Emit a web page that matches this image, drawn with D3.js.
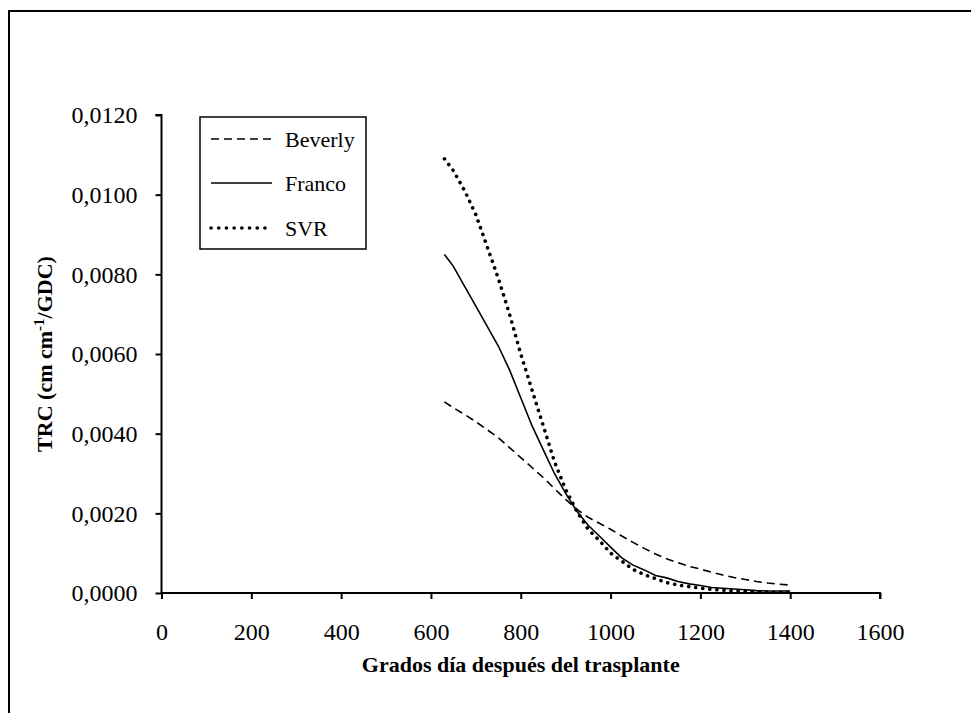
<!DOCTYPE html>
<html>
<head>
<meta charset="utf-8">
<script src="https://cdn.jsdelivr.net/npm/d3@7"></script>
<style>
  html, body { margin: 0; padding: 0; background: #fff; }
  svg { display: block; }
  text { font-family: "Liberation Serif", "Times New Roman", serif; fill: #000; }
</style>
</head>
<body>
<svg id="chart" width="971" height="713"></svg>
<script>
// Grados día después del trasplante (GDC)
const gdd = [630, 650, 675, 700, 725, 750, 775, 800, 825, 850, 875, 900, 925, 950, 975,
  1000, 1025, 1050, 1075, 1100, 1125, 1150, 1175, 1200, 1225, 1250, 1275, 1300, 1325, 1350, 1375, 1400];

// TRC per model
const beverly = [0.0048, 0.00465, 0.00448, 0.0043, 0.0041, 0.0039, 0.00365, 0.0034, 0.00315, 0.0029, 0.00262, 0.00235, 0.0021, 0.0019, 0.00175,
  0.0016, 0.00143, 0.00127, 0.00112, 0.00098, 0.00086, 0.00076, 0.00067, 0.0006, 0.00052, 0.00045, 0.00039, 0.00034, 0.00029, 0.00025, 0.00022, 0.0002];
const franco = [0.0085, 0.0082, 0.0077, 0.0072, 0.0067, 0.0062, 0.0056, 0.0049, 0.0042, 0.0036, 0.0030, 0.0025, 0.00205, 0.0017, 0.00143,
  0.00115, 0.00088, 0.0007, 0.00058, 0.00044, 0.00038, 0.00029, 0.00023, 0.00019, 0.00014, 0.00012, 0.0001, 0.00008, 0.00006, 0.00005, 0.00005, 0.00005];
const svr = [0.0109, 0.0106, 0.0101, 0.0095, 0.0087, 0.0079, 0.0070, 0.0060, 0.0051, 0.0042, 0.0033, 0.0026, 0.00205, 0.0016, 0.00132,
  0.001, 0.0008, 0.00059, 0.00046, 0.00036, 0.00026, 0.0002, 0.00016, 0.00012, 0.00009, 0.00007, 0.00005, 0.00004, 0.00003, 0.00002, 0.00002, 0.00002];

const seriesNames = ["Beverly", "Franco", "SVR"];
const xTicks = [0, 200, 400, 600, 800, 1000, 1200, 1400, 1600];
const yTicks = [0, 0.002, 0.004, 0.006, 0.008, 0.010, 0.012];

const svg = d3.select("#chart");

// outer frame
svg.append("path")
  .attr("d", "M9,713 L9,11 L971,11")
  .attr("fill", "none").attr("stroke", "#000").attr("stroke-width", 2);

const x = d3.scaleLinear().domain([0, 1600]).range([161.5, 880]);
const y = d3.scaleLinear().domain([0, 0.012]).range([593, 115]);

const fmt = d => d3.format(".4f")(d).replace(".", ",");

const yAxis = svg.append("g")
  .attr("transform", `translate(${x(0)},0)`)
  .call(d3.axisLeft(y).tickValues(yTicks).tickFormat(fmt).tickSizeOuter(0).tickSizeInner(6).tickPadding(18));
const xAxis = svg.append("g")
  .attr("transform", `translate(0,${y(0)})`)
  .call(d3.axisBottom(x).tickValues(xTicks).tickFormat(d3.format("d")).tickSizeOuter(0).tickSizeInner(6).tickPadding(24));

[yAxis, xAxis].forEach(g => {
  g.select(".domain").attr("stroke", "#000").attr("stroke-width", 2);
  g.selectAll(".tick line").attr("stroke", "#000").attr("stroke-width", 2);
  g.selectAll(".tick text")
    .attr("font-family", "'Liberation Serif', 'Times New Roman', serif")
    .attr("font-size", 24).attr("fill", "#000");
});
// the outer tick at the top of the y axis closes the spine
yAxis.select(".domain").attr("d", `M-6,${y(0.012)}H0V${y(0)}`);
xAxis.select(".domain").attr("d", `M${x(0)},0H${x(1600)}V6`);

const styles = {
  Beverly: { dash: "8 5", width: 1.6, cap: "butt" },
  Franco:  { dash: null, width: 1.6, cap: "butt" },
  SVR:     { dash: "0.1 7", width: 3.6, cap: "round" }
};
const values = { Beverly: beverly, Franco: franco, SVR: svr };

const line = d3.line().x(d => x(d[0])).y(d => y(d[1]));

seriesNames.forEach(name => {
  const pts = gdd.map((g, i) => [g, values[name][i]]);
  const st = styles[name];
  svg.append("path")
    .datum(pts)
    .attr("d", line)
    .attr("fill", "none")
    .attr("stroke", "#000")
    .attr("stroke-width", st.width)
    .attr("stroke-linecap", st.cap)
    .attr("stroke-dasharray", st.dash);
});

// legend
const lg = svg.append("g");
lg.append("rect")
  .attr("x", 200).attr("y", 117).attr("width", 166).attr("height", 132)
  .attr("fill", "#fff").attr("stroke", "#000").attr("stroke-width", 1.5);
const rowY = [139, 183, 228];
seriesNames.forEach((name, i) => {
  const st = styles[name];
  lg.append("line")
    .attr("x1", 211).attr("x2", 272).attr("y1", rowY[i]).attr("y2", rowY[i])
    .attr("stroke", "#000")
    .attr("stroke-width", name === "SVR" ? 3.6 : 1.6)
    .attr("stroke-linecap", st.cap)
    .attr("stroke-dasharray", name === "SVR" ? "0.1 7.6" : st.dash);
  lg.append("text")
    .attr("x", 285).attr("y", rowY[i] + 8)
    .attr("font-size", 22)
    .text(name);
});

// axis titles
svg.append("text")
  .attr("x", (x(0) + x(1600)) / 2).attr("y", 672)
  .attr("text-anchor", "middle")
  .attr("font-size", 22).attr("font-weight", "bold")
  .text("Grados día después del trasplante");

const yt = svg.append("text")
  .attr("transform", `translate(52,${(y(0) + y(0.012)) / 2}) rotate(-90)`)
  .attr("text-anchor", "middle")
  .attr("font-size", 22).attr("font-weight", "bold");
yt.append("tspan").text("TRC (cm cm");
yt.append("tspan").attr("dy", -8).attr("font-size", 15).text("-1");
yt.append("tspan").attr("dy", 8).text("/GDC)");
</script>
</body>
</html>
